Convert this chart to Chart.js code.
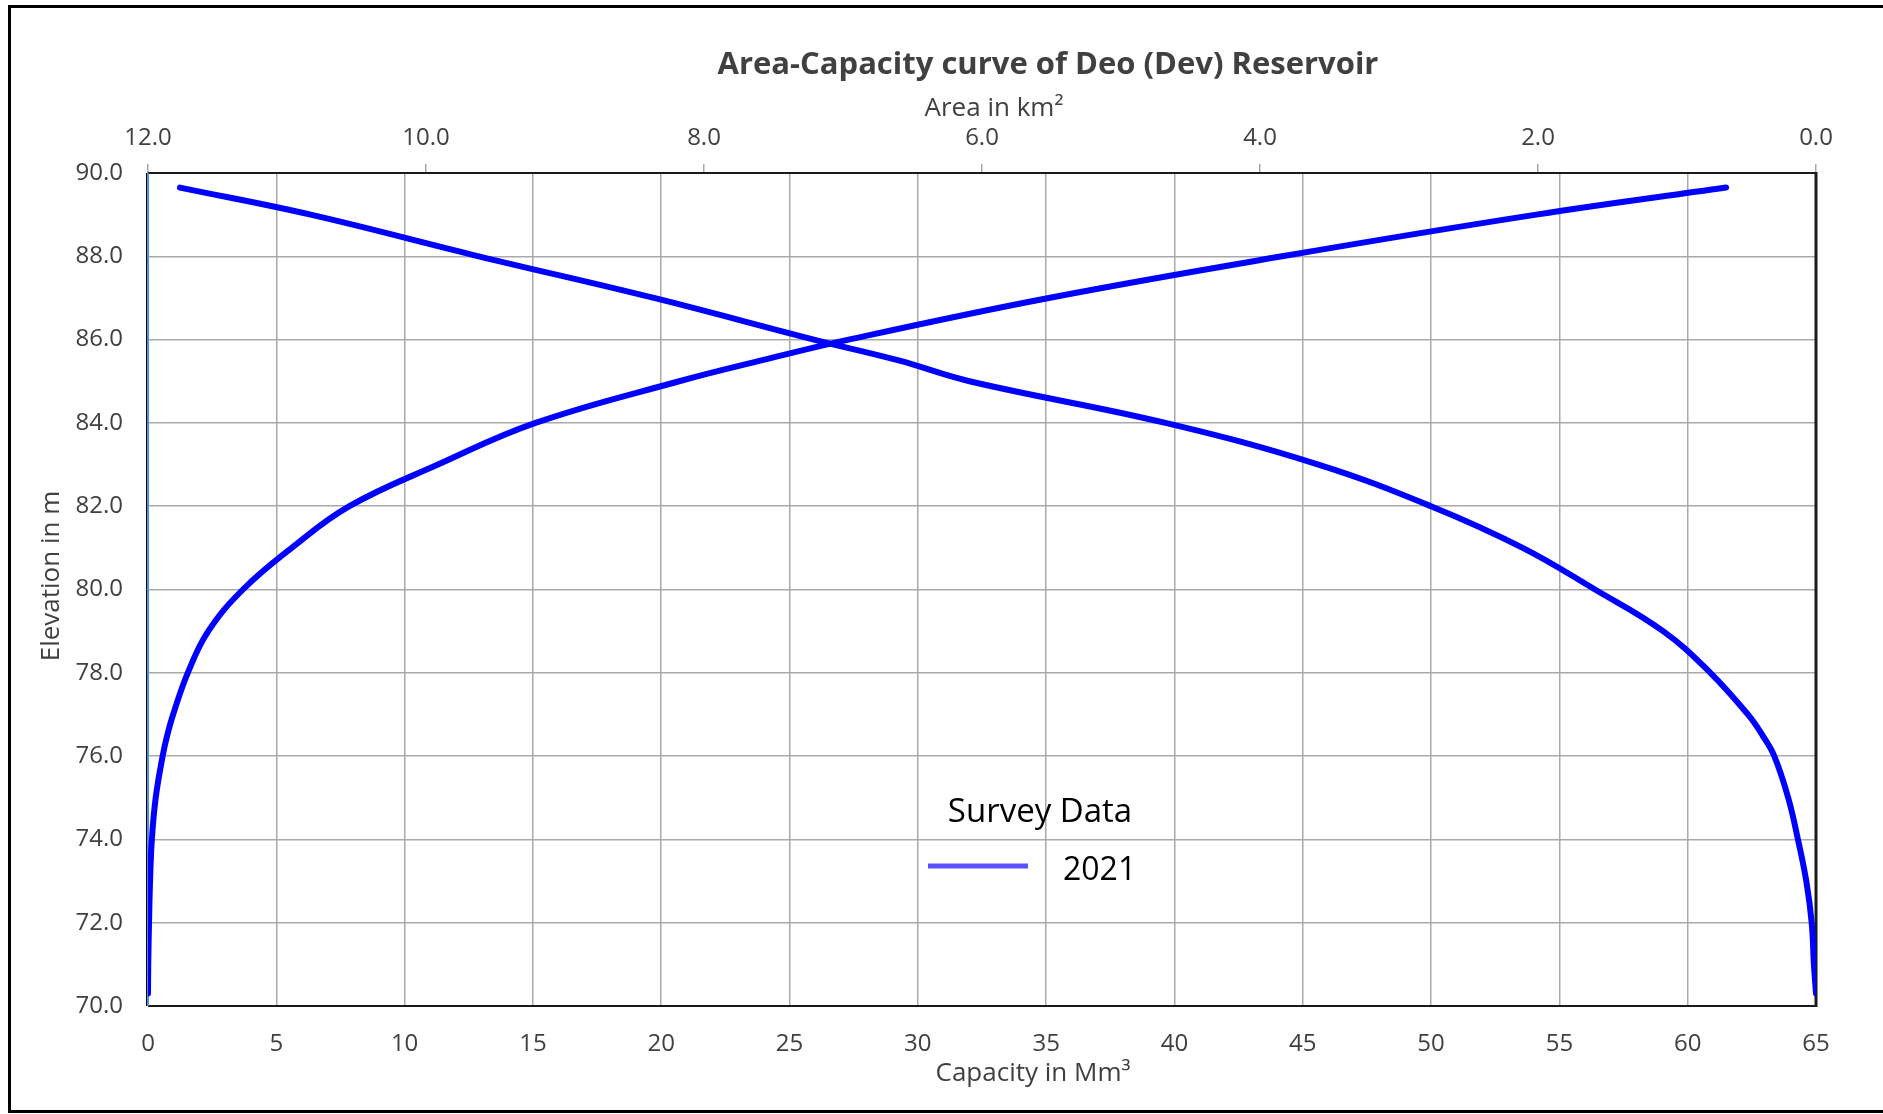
<!DOCTYPE html>
<html>
<head>
<meta charset="utf-8">
<script src="https://cdn.jsdelivr.net/npm/chart.js@4.4.1/dist/chart.umd.min.js"></script>
<style>
  html, body { margin: 0; padding: 0; background: #ffffff; }
  #wrap { position: relative; width: 1883px; height: 1114px; }
</style>
</head>
<body>
<div id="wrap"><canvas id="chart" width="1883" height="1114"></canvas></div>
<script>
// Text drawn on the chart
const chartTitle = 'Area-Capacity curve of Deo (Dev) Reservoir';
const areaAxisTitle = 'Area in km²';
const capacityAxisTitle = 'Capacity in Mm³';
const elevationAxisTitle = 'Elevation in m';
const legendTitle = 'Survey Data';
const seriesLabel = '2021';

// Survey 2021: water level (m) with cumulative capacity (Mm³) and water-spread area (km²)
const elevation = [70.3, 71, 72, 73, 74, 75, 76, 76.5, 77, 78, 79, 80, 81, 82, 83, 84, 85, 85.5, 86, 87, 88, 89, 89.65];
const capacity  = [0, 0.01, 0.04, 0.08, 0.15, 0.3, 0.57, 0.75, 0.98, 1.55, 2.35, 3.7, 5.6, 7.85, 11.3, 15.1, 20.7, 23.9, 27.3, 35.1, 44.2, 54.1, 61.5];
const area      = [0, 0.015, 0.031, 0.07, 0.13, 0.2, 0.3, 0.385, 0.49, 0.76, 1.1, 1.59, 2.11, 2.77, 3.58, 4.68, 6.09, 6.6, 7.21, 8.36, 9.62, 10.83, 11.77];

// Axis ranges and tick steps
const capacityRange = { min: 0, max: 65, step: 5 };
const areaRange = { min: 0, max: 12, step: 2 };
const elevationRange = { min: 70, max: 90, step: 2 };

const capacityPoints = elevation.map((e, i) => ({ x: capacity[i], y: e }));
const areaPoints = elevation.map((e, i) => ({ x: area[i], y: e }));

const TEXT = '#404040';
const GRID = '#a9a9a9';
const FONT = "'Open Sans', 'Segoe UI', sans-serif";

// Frame, plot border, titles and the in-plot legend
const decorations = {
  id: 'decorations',
  beforeDraw(chart) {
    const ctx = chart.ctx;
    ctx.save();
    ctx.fillStyle = '#ffffff';
    ctx.fillRect(0, 0, chart.width, chart.height);
    // outer frame (open to the right edge)
    ctx.strokeStyle = '#000000';
    ctx.lineWidth = 3;
    ctx.beginPath();
    ctx.moveTo(chart.width + 5, 6.5);
    ctx.lineTo(9.5, 6.5);
    ctx.lineTo(9.5, 1111.5);
    ctx.lineTo(chart.width + 5, 1111.5);
    ctx.stroke();
    ctx.restore();
  },
  beforeDatasetsDraw(chart) {
    const { ctx, chartArea: a } = chart;
    ctx.save();
    ctx.strokeStyle = '#1a1a1a';
    ctx.lineWidth = 2;
    ctx.beginPath();
    ctx.moveTo(a.left, a.top);
    ctx.lineTo(a.right, a.top);
    ctx.moveTo(a.left, a.bottom);
    ctx.lineTo(a.right, a.bottom);
    ctx.stroke();
    ctx.lineWidth = 3;
    ctx.beginPath();
    ctx.moveTo(a.right, a.top - 1);
    ctx.lineTo(a.right, a.bottom + 1);
    ctx.stroke();
    ctx.lineWidth = 1;
    ctx.strokeStyle = '#000000';
    ctx.beginPath();
    ctx.moveTo(a.left - 1.5, a.top);
    ctx.lineTo(a.left - 1.5, a.bottom);
    ctx.stroke();
    ctx.lineWidth = 2;
    ctx.strokeStyle = '#4a90e2';
    ctx.beginPath();
    ctx.moveTo(a.left, a.top);
    ctx.lineTo(a.left, a.bottom);
    ctx.stroke();
    ctx.restore();
  },
  afterDraw(chart) {
    const { ctx } = chart;
    ctx.save();
    ctx.textAlign = 'center';
    ctx.textBaseline = 'middle';
    ctx.fillStyle = TEXT;
    ctx.font = `bold 31px ${FONT}`;
    ctx.fillText(chartTitle, 1048, 65);

    ctx.font = `26px ${FONT}`;
    ctx.fillText(areaAxisTitle, 994, 109);
    ctx.fillText(capacityAxisTitle, 1033, 1074);
    ctx.save();
    ctx.translate(52, 576);
    ctx.rotate(-Math.PI / 2);
    ctx.fillText(elevationAxisTitle, 0, 0);
    ctx.restore();

    // legend
    const ds = chart.data.datasets[0];
    ctx.fillStyle = '#000000';
    ctx.font = `33px ${FONT}`;
    ctx.fillText(legendTitle, 1040, 813);
    ctx.strokeStyle = '#5a50ff';
    ctx.lineWidth = 5;
    ctx.beginPath();
    ctx.moveTo(928, 866);
    ctx.lineTo(1028, 866);
    ctx.stroke();
    ctx.textAlign = 'left';
    ctx.font = `32px ${FONT}`;
    ctx.fillText(ds.label, 1063, 871);
    ctx.restore();
  }
};

const curveStyle = {
  borderColor: '#0000ff',
  borderWidth: 6,
  borderCapStyle: 'round',
  borderJoinStyle: 'round',
  pointRadius: 0,
  tension: 0.4,
  fill: false
};

new Chart(document.getElementById('chart'), {
  type: 'line',
  data: {
    datasets: [
      Object.assign({ label: seriesLabel, data: capacityPoints, xAxisID: 'x', yAxisID: 'y' }, curveStyle),
      Object.assign({ label: seriesLabel, data: areaPoints, xAxisID: 'x2', yAxisID: 'y' }, curveStyle)
    ]
  },
  options: {
    responsive: false,
    animation: false,
    devicePixelRatio: 1,
    layout: { padding: { left: 0, right: 67, top: 0, bottom: 0 } },
    plugins: {
      legend: { display: false },
      tooltip: { enabled: false },
      title: { display: false }
    },
    scales: {
      x: {
        type: 'linear',
        position: 'bottom',
        min: capacityRange.min,
        max: capacityRange.max,
        afterFit: s => { s.height = 108; },
        border: { display: false },
        grid: { color: GRID, lineWidth: 1.5, drawTicks: false },
        ticks: {
          stepSize: capacityRange.step,
          padding: 24,
          color: TEXT,
          font: { family: FONT, size: 24 },
          maxRotation: 0
        }
      },
      x2: {
        type: 'linear',
        position: 'top',
        min: areaRange.min,
        max: areaRange.max,
        reverse: true,
        afterFit: s => { s.height = 173; },
        border: { display: false },
        grid: { drawOnChartArea: false, drawTicks: true, tickLength: 9, color: GRID, lineWidth: 1.5 },
        ticks: {
          stepSize: areaRange.step,
          padding: 11,
          color: TEXT,
          font: { family: FONT, size: 24 },
          maxRotation: 0,
          callback: v => Number(v).toFixed(1)
        }
      },
      y: {
        type: 'linear',
        position: 'left',
        min: elevationRange.min,
        max: elevationRange.max,
        afterFit: s => { s.width = 148; },
        border: { display: false },
        grid: { color: GRID, lineWidth: 1.5, drawTicks: false },
        ticks: {
          stepSize: elevationRange.step,
          padding: 25,
          color: TEXT,
          font: { family: FONT, size: 24 },
          callback: v => Number(v).toFixed(1)
        }
      }
    }
  },
  plugins: [decorations]
});
</script>
</body>
</html>
